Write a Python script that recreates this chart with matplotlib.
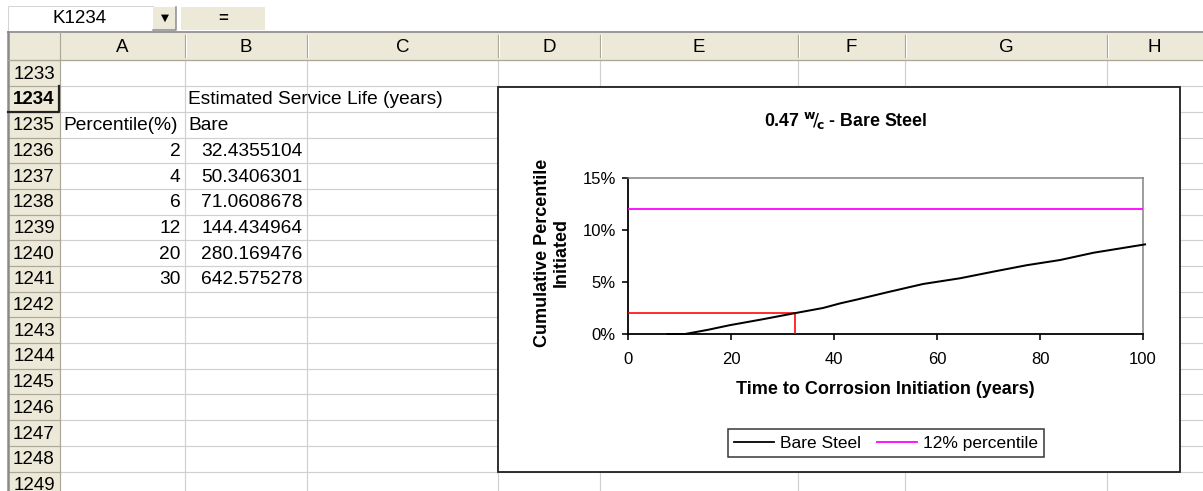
import matplotlib
matplotlib.use("Agg")
import matplotlib.pyplot as plt
from matplotlib.patches import Rectangle
from matplotlib.ticker import FuncFormatter, MultipleLocator
from matplotlib import font_manager as fm

# ---------------- worksheet content ----------------
row_numbers = list(range(1233, 1250))
column_letters = ["A", "B", "C", "D", "E", "F", "G", "H"]
table_title = "Estimated Service Life (years)"
percentile_header = "Percentile(%)"
series_header = "Bare"
percentiles = [2, 4, 6, 12, 20, 30]
service_life_bare = [32.4355104, 50.3406301, 71.0608678, 144.434964, 280.169476, 642.575278]

# ---------------- chart series ----------------
initiation_years = [7.7, 11.1, 15.5, 19.8, 26.0, 32.4, 37.9, 41.2, 44.4, 50.3,
                    57.3, 64.5, 71.1, 77.4, 83.9, 90.4, 100.4]
cumulative_initiated = [0.0, 0.0, 0.4, 0.85, 1.4, 2.0, 2.5, 2.94, 3.3, 4.0,
                        4.8, 5.35, 6.0, 6.6, 7.1, 7.8, 8.6]
threshold_pct = 12
threshold_span = [0, 100]
marker_pct = percentiles[0]
marker_years = service_life_bare[0]

# ---------------- fonts ----------------
installed = {f.name for f in fm.fontManager.ttflist}
SANS = "Liberation Sans" if "Liberation Sans" in installed else "DejaVu Sans"
plt.rcParams["font.family"] = [SANS, "DejaVu Sans"]

W, H = 1203, 491
DPI = 100
fig = plt.figure(figsize=(W / DPI, H / DPI), dpi=DPI)
fig.patch.set_facecolor("white")

bg = fig.add_axes([0, 0, 1, 1])
bg.set_xlim(0, W)
bg.set_ylim(H, 0)
bg.axis("off")

BEIGE = "#ece9d8"
HDR_LINE = "#aca899"
GRID = "#d0d0d0"
CELL_FS = 13.8
HDR_FS = 13.5

col_edges = [8, 60, 185, 307, 498, 600, 798, 905, 1107, 1320]
row_top = 60.4
row_h = 25.7
hdr_top = 32.0


def px(v):
    return v * 72.0 / DPI


# formula bar
bg.add_patch(Rectangle((8, 6), 145, 25, facecolor="white", edgecolor="#d4d4d4", lw=px(1)))
bg.text(80, 18.5, "K1234", ha="center", va="center", fontsize=HDR_FS)
bg.add_patch(Rectangle((153, 7), 23, 23, facecolor=BEIGE, edgecolor="none"))
bg.plot([153, 176, 176], [30, 30, 7], color="#8a8a8a", lw=px(1.5))
bg.text(164.5, 18, "\u25bc", ha="center", va="center", fontsize=7.5, family="DejaVu Sans")
bg.add_patch(Rectangle((181, 7), 84, 23, facecolor=BEIGE, edgecolor="none"))
bg.text(223, 18.5, "=", ha="center", va="center", fontsize=12, fontweight="bold")

# header band and row-number column
bg.add_patch(Rectangle((8, hdr_top), W, row_top - hdr_top, facecolor=BEIGE, edgecolor="none"))
bg.add_patch(Rectangle((8, row_top), col_edges[1] - 8, H, facecolor=BEIGE, edgecolor="none"))
bg.plot([8, W], [hdr_top, hdr_top], color="#9a9a9a", lw=px(2))
bg.plot([8, 8], [hdr_top, H], color="#8a8a8a", lw=px(2.5))
bg.plot([8, W], [row_top, row_top], color=HDR_LINE, lw=px(1.2))
bg.plot([col_edges[1], col_edges[1]], [hdr_top, H], color=HDR_LINE, lw=px(1.2))

# column header letters and separators
for i, letter in enumerate(column_letters):
    x0, x1 = col_edges[i + 1], col_edges[i + 2]
    bg.plot([x1, x1], [hdr_top + 3, row_top - 3], color=HDR_LINE, lw=px(1.2))
    bg.plot([x1 + 1.2, x1 + 1.2], [hdr_top + 3, row_top - 3], color="white", lw=px(1))
    xc = (x0 + x1) / 2 if x1 < W else x0 + 47
    bg.text(xc, (hdr_top + row_top) / 2 + 1, letter, ha="center", va="center", fontsize=HDR_FS)

# grid lines of the cell area
for k in range(len(row_numbers) + 1):
    y = row_top + k * row_h
    bg.plot([col_edges[1], W], [y, y], color=GRID, lw=px(1.2), zorder=1)
    bg.plot([8, col_edges[1]], [y, y], color=HDR_LINE, lw=px(1.2), zorder=1)
for x in col_edges[2:-1]:
    bg.plot([x, x], [row_top, H], color=GRID, lw=px(1.2), zorder=1)

# row numbers (the last row is only partly in view)
for k, r in enumerate(row_numbers):
    yc = row_top + (k + 0.5) * row_h + 1
    bold = (r == 1234)
    bg.text(34, yc, str(r), ha="center", va="center", fontsize=HDR_FS,
            fontweight="bold" if bold else "normal", zorder=3, clip_on=True)
    if bold:
        y0 = row_top + k * row_h
        bg.plot([col_edges[1] - 1, col_edges[1] - 1, 8],
                [y0, y0 + row_h, y0 + row_h], color="#222222", lw=px(2.2), zorder=3)


def row_center(r):
    return row_top + (row_numbers.index(r) + 0.5) * row_h + 1


def fmt_general(v):
    digits = len(str(int(v)))
    return f"{v:.{10 - 1 - digits}f}"


bg.text(col_edges[2] + 3, row_center(1234), table_title, ha="left", va="center", fontsize=CELL_FS, zorder=3)
bg.text(col_edges[1] + 3, row_center(1235), percentile_header, ha="left", va="center", fontsize=CELL_FS, zorder=3)
bg.text(col_edges[2] + 3, row_center(1235), series_header, ha="left", va="center", fontsize=CELL_FS, zorder=3)
for i, (p, life) in enumerate(zip(percentiles, service_life_bare)):
    yc = row_center(1236 + i)
    bg.text(col_edges[2] - 4.5, yc, str(p), ha="right", va="center", fontsize=CELL_FS, zorder=3)
    bg.text(col_edges[3] - 4.5, yc, fmt_general(life), ha="right", va="center", fontsize=CELL_FS, zorder=3)

# embedded chart frame
CH_X0, CH_Y0, CH_X1, CH_Y1 = 498, 86.5, 1180, 472
bg.add_patch(Rectangle((CH_X0, CH_Y0), CH_X1 - CH_X0, CH_Y1 - CH_Y0,
                       facecolor="white", edgecolor="#1e1e1e", lw=px(1.8), zorder=5))

# ---------------- chart plot area ----------------
PA_X0, PA_X1, PA_Y0, PA_Y1 = 628, 1143, 177.7, 334.0
pw, ph = PA_X1 - PA_X0, PA_Y1 - PA_Y0
ax = fig.add_axes([PA_X0 / W, (H - PA_Y1) / H, pw / W, ph / H], zorder=2)
ax.set_facecolor("white")

ax.plot(initiation_years, cumulative_initiated, color="black", lw=px(2.0),
        label="Bare Steel", clip_on=False, zorder=4)
ax.plot(threshold_span, [threshold_pct, threshold_pct], color="#ff00ff", lw=px(1.8),
        label=f"{threshold_pct}% percentile", zorder=3)
ax.plot([0, marker_years, marker_years], [marker_pct, marker_pct, 0], color="#ff0000",
        lw=px(1.6), zorder=3)

ax.set_xlim(0, 100)
ax.set_ylim(0, 15)
ax.xaxis.set_major_locator(MultipleLocator(20))
ax.yaxis.set_major_locator(MultipleLocator(5))
ax.yaxis.set_major_formatter(FuncFormatter(lambda v, _: f"{v:.0f}%"))

for side in ("left", "bottom"):
    ax.spines[side].set_color("black")
    ax.spines[side].set_linewidth(px(1.8))
for side in ("top", "right"):
    ax.spines[side].set_color("#808080")
    ax.spines[side].set_linewidth(px(1.5))

ax.tick_params(axis="both", direction="out", length=px(6), width=px(1.6),
               colors="black", labelsize=12)
ax.tick_params(axis="x", pad=px(12))
ax.tick_params(axis="y", pad=px(6))

ax.text((846 - PA_X0) / pw, (PA_Y1 - 121) / ph,
        r"0.47 $^{\mathbf{w}}\!/\!_{\mathbf{c}}$ - Bare Steel",
        transform=ax.transAxes, ha="center", va="center", fontsize=12.8, fontweight="bold")

ax.set_ylabel("Cumulative Percentile\nInitiated", fontsize=13, fontweight="bold",
              va="center", ha="center", multialignment="center", linespacing=1.15)
ax.yaxis.set_label_coords((552 - PA_X0) / pw, (PA_Y1 - 252.5) / ph)

ax.set_xlabel("Time to Corrosion Initiation (years)", fontsize=13, fontweight="bold", va="center")
ax.xaxis.set_label_coords(0.5, (PA_Y1 - 390) / ph)

leg = ax.legend(loc="center", bbox_to_anchor=((886 - PA_X0) / pw, (PA_Y1 - 443) / ph),
                ncol=2, frameon=True, fancybox=False, shadow=False, fontsize=12.5,
                handlelength=2.3, handletextpad=0.35, columnspacing=0.9,
                borderpad=0.35, borderaxespad=0)
leg.get_frame().set_edgecolor("black")
leg.get_frame().set_linewidth(px(1.5))
for line in leg.get_lines():
    line.set_linewidth(px(1.8))

fig.savefig("out.png", dpi=DPI, facecolor="white")
